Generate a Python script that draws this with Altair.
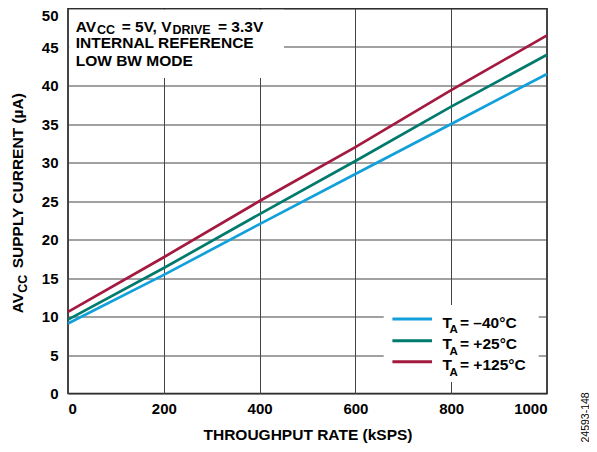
import altair as alt
import pandas as pd

# ---- data ----
rate = [0, 200, 400, 600, 800, 1000]                 # kSPS
i_m40 = [9.1, 15.4, 22.0, 28.5, 35.0, 41.5]          # uA, TA = -40C
i_p25 = [9.6, 16.3, 23.3, 30.2, 37.25, 44.0]         # uA, TA = +25C
i_p125 = [10.6, 17.7, 25.0, 32.0, 39.4, 46.5]        # uA, TA = +125C
series = ["TA = –40°C", "TA = +25°C", "TA = +125°C"]
legend_values = ["= –40°C", "= +25°C", "= +125°C"]
colors = ["#12A0DB", "#007A6C", "#A3193F"]
x_ticks = [0, 200, 400, 600, 800, 1000]
y_ticks = [0, 5, 10, 15, 20, 25, 30, 35, 40, 45, 50]

rows = []
for name, vals in zip(series, [i_m40, i_p25, i_p125]):
    for r, v in zip(rate, vals):
        rows.append({"rate": r, "current": v, "series": name})
df = pd.DataFrame(rows)

FONT = "Arial, Liberation Sans, sans-serif"

lines = alt.Chart(df).mark_line(strokeWidth=2.7).encode(
    x=alt.X("rate:Q", scale=alt.Scale(domain=[0, 1000], nice=False),
            axis=alt.Axis(values=x_ticks, format="d", title="THROUGHPUT RATE (kSPS)")),
    y=alt.Y("current:Q", scale=alt.Scale(domain=[0, 50], nice=False),
            axis=alt.Axis(values=y_ticks, format="d", title=None,
                          labelBaseline={"condition": {"test": "datum.value == 50", "value": "top"},
                                         "value": "middle"})),
    color=alt.Color("series:N", scale=alt.Scale(domain=series, range=colors), legend=None),
    detail="series:N",
)


def txt(s, x, y, size=15.5, angle=0, weight="bold"):
    kw = dict(align="left", baseline="alphabetic", font=FONT, fontSize=size,
              fontWeight=weight, color="black")
    if angle:
        kw["angle"] = angle
    return alt.Chart(pd.DataFrame({"t": [s]})).mark_text(**kw).encode(
        x=alt.value(x), y=alt.value(y), text="t:N")


def box(x1, x2, y1, y2):
    return alt.Chart(pd.DataFrame({"a": [0]})).mark_rect(fill="white", stroke=None).encode(
        x=alt.value(x1), x2=alt.value(x2), y=alt.value(y1), y2=alt.value(y2))


layers = [box(1.2, 216, 1.2, 69.5), box(315.7, 470.7, 296.5, 373.5), lines]

# annotation block
layers += [
    txt("AV", 7.7, 23.2),
    txt("CC", 29, 25.8, size=12.5),
    txt("= 5V, V", 53.7, 23.2),
    txt("DRIVE", 104.5, 25.8, size=12.5),
    txt("= 3.3V", 150, 23.2),
    txt("INTERNAL REFERENCE", 7.7, 39.2),
    txt("LOW BW MODE", 7.7, 57.2),
]

# y axis title (rotated, with subscript)
layers += [
    txt("AV", -45, 304.8, angle=270),
    txt("CC", -41.3, 284.2, size=12.5, angle=270),
    txt("SUPPLY CURRENT (µA)", -45, 259.8, angle=270),
]

# figure id
layers.append(txt("24593-148", 520.5, 434.0, size=10.5, angle=270, weight="normal"))

# custom legend
line_y = [310.5, 332.2, 353.2]
for i, (lab, col) in enumerate(zip(legend_values, colors)):
    ly = line_y[i]
    layers.append(
        alt.Chart(pd.DataFrame({"a": [0]})).mark_rule(strokeWidth=3, color=col).encode(
            x=alt.value(324.4), x2=alt.value(364), y=alt.value(ly))
    )
    layers += [
        txt("T", 374.4, ly + 8.7),
        txt("A", 381.5, ly + 14.3, size=11.5),
        txt(lab, 392, ly + 8.7),
    ]

chart = alt.layer(*layers).properties(
    width=479, height=385,
    padding={"left": 60, "top": 0.5, "right": 42, "bottom": 50},
    autosize=alt.AutoSizeParams(type="none"),
).configure_view(
    stroke="#1a1a1a", strokeWidth=1.6
).configure_axis(
    labelFont=FONT, labelFontSize=15, labelFontWeight="bold", labelColor="black",
    titleFont=FONT, titleFontSize=15.5, titleFontWeight="bold", titleColor="black",
    ticks=False, domain=False, grid=True, gridColor="#444444", gridWidth=1,
).configure_axisX(
    labelPadding=8, titlePadding=11,
).configure_axisY(
    labelPadding=10,
)

chart.save("out.html", embed_options={"renderer": "svg", "actions": False})
